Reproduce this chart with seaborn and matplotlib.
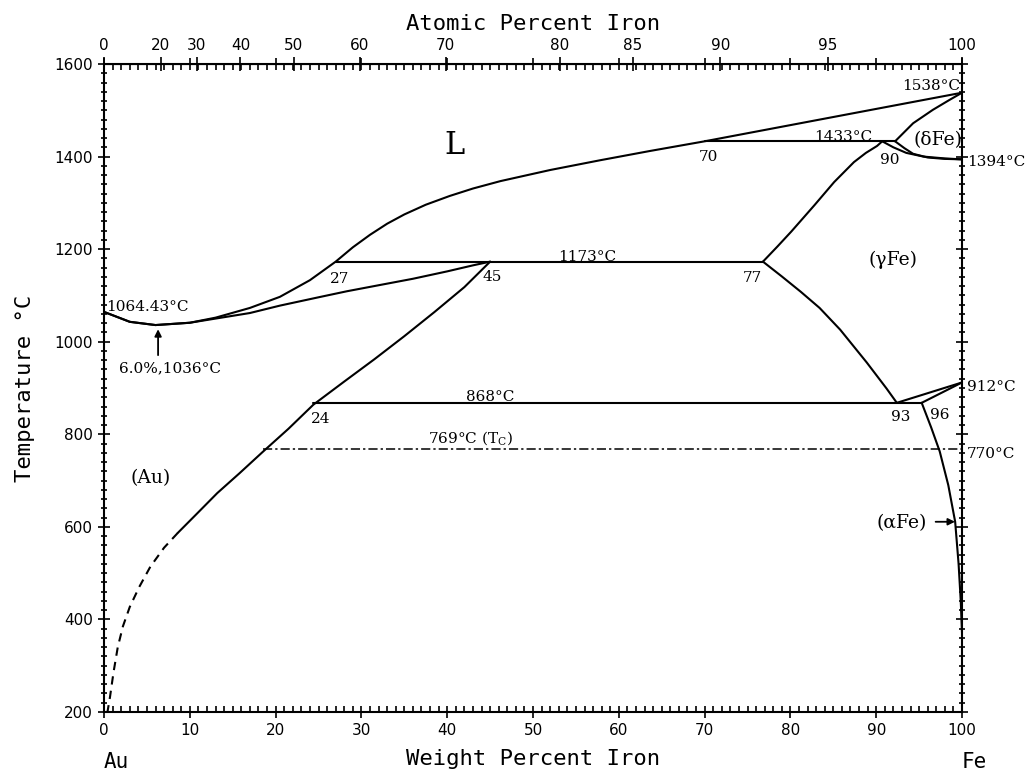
import numpy as np
import matplotlib
matplotlib.use("Agg")
import matplotlib.pyplot as plt
import matplotlib.transforms as mtransforms
from matplotlib.ticker import MultipleLocator, FixedLocator
import seaborn as sns

# --- phase boundaries (wt% Fe, deg C) ---
liq_x = [0, 3, 6, 10, 13, 17, 20.5, 24, 27, 29, 31, 33, 35, 37.5, 40.3, 43, 46.2, 52, 57.8, 63.6, 70, 80, 90, 100]
liq_t = [1064.43, 1043, 1036, 1041, 1052, 1073, 1097, 1133, 1173, 1204, 1231, 1255, 1275, 1296, 1315, 1331, 1347, 1371, 1392, 1412, 1433, 1468, 1503, 1538]

sol_x = [0, 3, 6, 10, 13, 17, 20.5, 25, 28.3, 32, 36, 40, 43, 45]
sol_t = [1064.43, 1043, 1036, 1041, 1050, 1062, 1078, 1096, 1109, 1122, 1136, 1152, 1165, 1173]

au_solvus_x = [45, 42, 38.5, 35, 31.5, 28, 24.4, 21.5, 18.5, 15.8, 13.2, 10.8, 8.6]
au_solvus_t = [1173, 1118, 1064, 1012, 962, 914, 864, 812, 762, 716, 673, 628, 587]

au_dash_x = [8.6, 7.0, 5.4, 4.1, 3.0, 2.2, 1.6, 1.1, 0.7, 0.4]
au_dash_t = [587, 555, 514, 470, 427, 385, 340, 285, 233, 200]

g_upper_x = [76.8, 78.5, 80.1, 82.8, 85.1, 87.4, 88.8, 90.1, 90.7]
g_upper_t = [1173, 1206, 1238, 1295, 1345, 1388, 1408, 1423, 1433]

g_solvus_x = [76.8, 79, 81.2, 83.4, 85.8, 88.9, 91.2, 92.4]
g_solvus_t = [1173, 1141, 1108, 1073, 1026, 955, 899, 868]

d_liq_x = [92.2, 94.3, 96.6, 98.5, 100]
d_liq_t = [1433, 1472, 1501, 1522, 1538]

d_low_x = [92.2, 93.3, 94.3, 96, 98, 100]
d_low_t = [1433, 1418, 1406, 1398, 1395, 1394]

g_d_x = [90.7, 92, 93.5, 95.5, 98, 100]
g_d_t = [1433, 1420, 1408, 1400, 1396, 1394]

ag_g_x = [92.4, 100]
ag_g_t = [868, 912]
ag_a_x = [95.3, 100]
ag_a_t = [868, 912]

a_solvus_x = [95.3, 96.4, 97.4, 98.4, 99.2, 99.6, 99.85, 100, 100]
a_solvus_t = [868, 815, 763, 690, 611, 520, 440, 370, 200]

iso_t = [1433, 1173, 868]
iso_x0 = [70, 27, 24.4]
iso_x1 = [92.2, 76.8, 95.3]

curie_t = 769
curie_x = [18.5, 100]

at_ticks = [0, 20, 30, 40, 50, 60, 70, 80, 85, 90, 95, 100]

sns.set_style("ticks")
plt.rcParams["font.family"] = ["DejaVu Sans"]
plt.rcParams["mathtext.fontset"] = "dejavuserif"
plt.rcParams["text.color"] = "black"
plt.rcParams["axes.labelcolor"] = "black"
plt.rcParams["xtick.color"] = "black"
plt.rcParams["ytick.color"] = "black"
plt.rcParams["axes.edgecolor"] = "black"

fig = plt.figure(figsize=(10.31, 7.74), dpi=100)
ax = fig.add_axes([0.1009, 0.0801, 0.8322, 0.8372])

lw = 1.5
solid = [(liq_x, liq_t), (sol_x, sol_t), (au_solvus_x, au_solvus_t), (g_upper_x, g_upper_t),
         (g_solvus_x, g_solvus_t), (d_liq_x, d_liq_t), (d_low_x, d_low_t), (g_d_x, g_d_t),
         (ag_g_x, ag_g_t), (ag_a_x, ag_a_t), (a_solvus_x, a_solvus_t)]
for xs, ts in solid:
    sns.lineplot(x=xs, y=ts, sort=False, estimator=None, color="black", lw=lw, ax=ax)

sns.lineplot(x=au_dash_x, y=au_dash_t, sort=False, estimator=None, color="black", lw=lw,
             linestyle=(0, (4, 3)), ax=ax)

for t, x0, x1 in zip(iso_t, iso_x0, iso_x1):
    sns.lineplot(x=[x0, x1], y=[t, t], sort=False, estimator=None, color="black", lw=lw, ax=ax)

sns.lineplot(x=curie_x, y=[curie_t, curie_t], sort=False, estimator=None, color="black", lw=1.1,
             linestyle=(0, (6, 2, 1.5, 2)), ax=ax)

ax.set_xlim(0, 100)
ax.set_ylim(200, 1600)
ax.xaxis.set_major_locator(MultipleLocator(10))
ax.xaxis.set_minor_locator(MultipleLocator(1))
ax.yaxis.set_major_locator(MultipleLocator(200))
ax.yaxis.set_minor_locator(MultipleLocator(20))
ax.tick_params(which="both", top=True, right=True, width=1.2, labelsize=11)
ax.tick_params(which="major", direction="inout", length=9)
ax.tick_params(which="minor", direction="in", length=4)
ax.tick_params(axis="y", which="minor", direction="inout", length=4)
for s in ax.spines.values():
    s.set_linewidth(1.5)

ax.set_xlabel("Weight Percent Iron", family="DejaVu Sans Mono", fontsize=16, labelpad=8)
ax.set_ylabel("Temperature \u00b0C", family="DejaVu Sans Mono", fontsize=16, labelpad=14)


def wt2at(w):
    w = np.clip(np.asarray(w, dtype=float), 0, 100)
    a = w / 55.845
    b = (100 - w) / 196.967
    return 100 * a / (a + b)


def at2wt(p):
    p = np.clip(np.asarray(p, dtype=float), 0, 100)
    a = p * 55.845
    b = (100 - p) * 196.967
    return 100 * a / (a + b)


sec = ax.secondary_xaxis("top", functions=(wt2at, at2wt))
sec.xaxis.set_major_locator(FixedLocator(at_ticks))
sec.xaxis.set_minor_locator(FixedLocator([]))
sec.tick_params(direction="inout", length=10, width=1.2, labelsize=11, pad=3)
sec.set_xlabel("Atomic Percent Iron", family="DejaVu Sans Mono", fontsize=16, labelpad=6)

serif = dict(family="DejaVu Serif", fontsize=11, color="black")
phase = dict(family="DejaVu Serif", fontsize=13.5, color="black")
ax.text(40.9, 1425, "L", family="DejaVu Serif", fontsize=22, ha="center", va="center")
ax.text(99.8, 1552, "1538\u00b0C", ha="right", va="center", **serif)
ax.text(86.2, 1442, "1433\u00b0C", ha="center", va="center", **serif)
ax.text(97.2, 1436, "(\u03b4Fe)", ha="center", va="center", **phase)
ax.text(100.6, 1388, "1394\u00b0C", ha="left", va="center", clip_on=False, **serif)
ax.text(70.4, 1399, "70", ha="center", va="center", **serif)
ax.text(91.6, 1393, "90", ha="center", va="center", **serif)
ax.text(92, 1177, "(\u03b3Fe)", ha="center", va="center", **phase)
ax.text(27.5, 1136, "27", ha="center", va="center", **serif)
ax.text(45.2, 1140, "45", ha="center", va="center", **serif)
ax.text(56.3, 1183, "1173\u00b0C", ha="center", va="center", **serif)
ax.text(75.6, 1138, "77", ha="center", va="center", **serif)
ax.text(0.3, 1076, "1064.43\u00b0C", ha="left", va="center", **serif)
ax.text(7.7, 943, "6.0%,1036\u00b0C", ha="center", va="center", **serif)
ax.text(25.2, 833, "24", ha="center", va="center", **serif)
ax.text(45, 880, "868\u00b0C", ha="center", va="center", **serif)
ax.text(92.8, 837, "93", ha="center", va="center", **serif)
ax.text(97.4, 842, "96", ha="center", va="center", **serif)
ax.text(100.6, 902, "912\u00b0C", ha="left", va="center", clip_on=False, **serif)
ax.text(100.6, 758, "770\u00b0C", ha="left", va="center", clip_on=False, **serif)
ax.text(42.7, 792, "769\u00b0C (T$_\\mathrm{C}$)", ha="center", va="center", **serif)
ax.text(5.4, 705, "(Au)", ha="center", va="center", **phase)
ax.text(93.0, 608, "(\u03b1Fe)", ha="center", va="center", **phase)

ax.annotate("", xy=(6.3, 1033), xytext=(6.3, 965),
            arrowprops=dict(arrowstyle="-|>", color="black", lw=1.3, mutation_scale=10))
ax.annotate("", xy=(99.5, 611), xytext=(96.6, 611),
            arrowprops=dict(arrowstyle="-|>", color="black", lw=1.3, mutation_scale=10))

trans = mtransforms.blended_transform_factory(ax.transData, ax.transAxes)
ax.text(0, -0.077, "Au", transform=trans, family="DejaVu Sans Mono", fontsize=15, ha="left", va="center")
ax.text(100, -0.077, "Fe", transform=trans, family="DejaVu Sans Mono", fontsize=15, ha="left", va="center")

fig.savefig("out.png", dpi=100)
